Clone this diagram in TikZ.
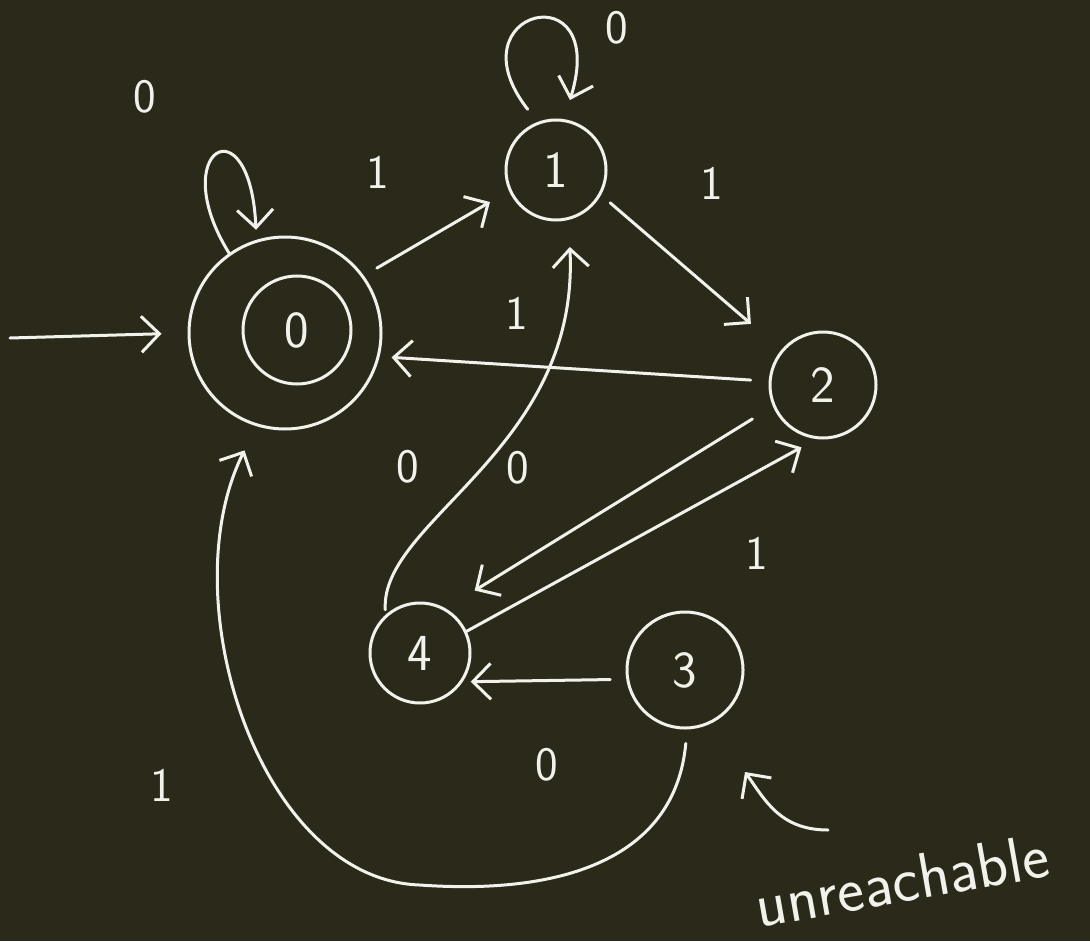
\documentclass[tikz,border=0pt]{standalone}
\usetikzlibrary{arrows.meta}
\definecolor{board}{RGB}{43,42,26}
\definecolor{chalk}{RGB}{242,242,236}
\begin{document}
\begin{tikzpicture}[x=0.5pt,y=-0.5pt,
  state/.style={draw=chalk,circle,line width=1.5pt,inner sep=0pt,text=chalk,font=\sffamily\fontsize{26}{30}\selectfont},
  edge/.style={draw=chalk,line width=1.5pt,line cap=round,-{Straight Barb[length=9pt,width=18pt,line width=1.5pt]}},
  lbl/.style={text=chalk,font=\sffamily\fontsize{24}{28}\selectfont,inner sep=0pt}]
\fill[board] (0,0) rectangle (1090,941);
\useasboundingbox (0,0) rectangle (1090,941);
% states
\node[state,minimum size=96pt] (n0) at (285,333) {};
\node[state,minimum size=54pt] (n0in) at (297,330) {0};
\node[state,minimum size=50pt] (n1) at (556,170) {1};
\node[state,minimum size=53pt] (n2) at (823,385) {2};
\node[state,minimum size=58pt] (n3) at (685,670) {3};
\node[state,minimum size=50pt] (n4) at (420,653) {4};
% start arrow
\coordinate (s) at (10,338);
\draw[edge,shorten >=13pt] (s) -- (n0.west);
% self loops
\draw[edge,shorten >=5pt] (n0.125) .. controls (165,150) and (250,100) .. (n0.107);
\draw[edge,shorten <=8pt,shorten >=10pt] (n1.111) .. controls (450,10) and (610,-30) .. (n1.81);
% transitions
\draw[edge,shorten <=7.5pt,shorten >=11pt] (n0.36) -- (n1.204);
\draw[edge,shorten <=6pt,shorten >=20pt] (n1.-29) -- (n2.140);
\draw[edge,shorten <=9pt,shorten >=6pt] (n2.176) -- (n0.-14);
\draw[edge,shorten <=12pt,shorten >=17pt] (n2.203) -- (n4.60);
\draw[edge,shorten >=8.5pt] (n4.25) -- (n2.263);
\draw[edge,shorten <=2.5pt,shorten >=13.5pt] (n4.132) .. controls (380,520) and (580,450) .. (n1.-76);
\draw[edge,shorten <=8pt,shorten >=4pt] (n3.189) -- (n4.-34);
\draw[edge,shorten <=7pt,shorten >=13.5pt] (n3.-88) .. controls (675,860) and (560,895) .. (420,885)
   .. controls (260,880) and (170,600) .. (n0.253);
% labels
\node[lbl] (l00) at (145,97) {0};
\node[lbl] (l01) at (378,172) {1};
\node[lbl] (l11) at (617,28) {0};
\node[lbl] (l12) at (712,183) {1};
\node[lbl] (l20) at (517,313) {1};
\node[lbl] (l41) at (408,467) {0};
\node[lbl] (l24) at (518,468) {0};
\node[lbl] (l42) at (757,553) {1};
\node[lbl] (l34) at (547,765) {0};
\node[lbl] (l30) at (162,785) {1};
% unreachable note
\node[lbl,rotate=10,font=\sffamily\fontsize{32}{38}\selectfont] (unr) at (902,880) {unreachable};
\coordinate (ua) at (828,830);
\coordinate (ub) at (745,772);
\draw[edge] (ua) .. controls (780,830) and (765,800) .. (ub);
\end{tikzpicture}
\end{document}
